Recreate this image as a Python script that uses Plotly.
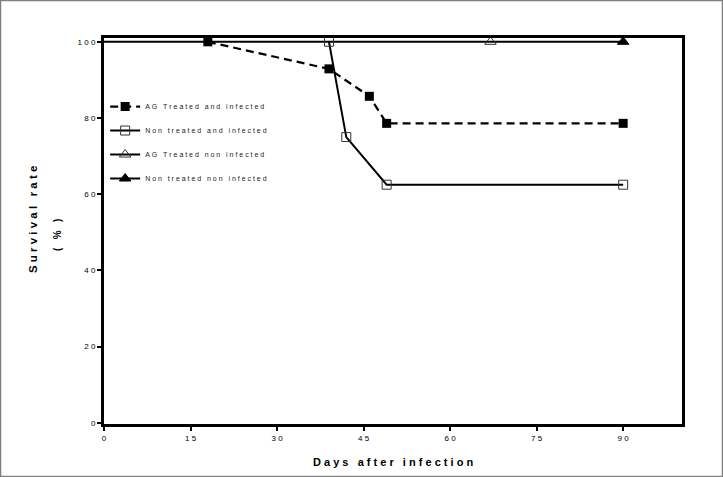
import plotly.graph_objects as go

# ---- data ----
ag_inf_days = [18, 39, 46, 49, 90]
ag_inf_surv = [100, 92.9, 85.7, 78.6, 78.6]

non_inf_days = [39, 42, 49, 90]
non_inf_surv = [100, 75, 62.5, 62.5]

ag_non_days = [67]
ag_non_surv = [100]

non_non_days = [90]
non_non_surv = [100]

# uninfected groups stay at 100 % for the whole follow-up
baseline_days = [0, 90]
baseline_surv = [100, 100]

x_ticks = [0, 15, 30, 45, 60, 75, 90]
y_ticks = [0, 20, 40, 60, 80, 100]

names = ["AG Treated and infected", "Non treated and infected",
         "AG Treated non infected", "Non treated non infected"]

NB = "\u00a0"


def spaced(s):
    return NB.join(NB if c == " " else c for c in s)


FONT = "Liberation Sans, Arial, sans-serif"

fig = go.Figure()

fig.add_trace(go.Scatter(
    x=baseline_days, y=baseline_surv, mode="lines", showlegend=False,
    line=dict(color="black", width=2), hoverinfo="skip"))

fig.add_trace(go.Scatter(
    x=non_inf_days, y=non_inf_surv, mode="lines+markers", name=spaced(names[1]),
    line=dict(color="black", width=2),
    marker=dict(symbol="square-open", size=9, color="#333333",
                line=dict(color="#333333", width=1)),
    legendrank=2, legendgroup="b"))

fig.add_trace(go.Scatter(
    x=ag_inf_days, y=ag_inf_surv, mode="lines+markers", name=spaced(names[0]),
    line=dict(color="black", width=2.2, dash="8px,5px"),
    marker=dict(symbol="square", size=9, color="black"),
    legendrank=1, legendgroup="a"))

fig.add_trace(go.Scatter(
    x=ag_non_days, y=ag_non_surv, mode="lines+markers", name=spaced(names[2]),
    line=dict(color="black", width=2),
    marker=dict(symbol="triangle-up-open", size=10, color="#333333",
                line=dict(color="#333333", width=1)),
    legendrank=3, legendgroup="c"))

fig.add_trace(go.Scatter(
    x=non_non_days, y=non_non_surv, mode="lines+markers", name=spaced(names[3]),
    line=dict(color="black", width=2),
    marker=dict(symbol="triangle-up", size=10, color="black",
                line=dict(color="black", width=1)),
    legendrank=4, legendgroup="d"))

L, R, T, B = 104, 41, 38, 53
W, H = 723, 477
pw, ph = W - L - R, H - T - B

axis_common = dict(
    showline=True, linecolor="black", linewidth=3, mirror=True,
    ticks="outside", ticklen=4, tickwidth=2, tickcolor="black",
    showgrid=False, zeroline=False,
    tickfont=dict(family=FONT, size=8, color="black"),
)

fig.update_layout(
    width=W, height=H,
    margin=dict(l=L, r=R, t=T, b=B, pad=0),
    paper_bgcolor="white", plot_bgcolor="white",
    font=dict(family=FONT, color="black"),
    xaxis=dict(range=[0, 100.2], tickvals=x_ticks,
               ticktext=[spaced(str(v)) for v in x_ticks], **axis_common),
    yaxis=dict(range=[-0.3, 101], tickvals=y_ticks,
               ticktext=[spaced(str(v)) for v in y_ticks], **axis_common),
    legend=dict(x=0.002, y=0.86, xanchor="left", yanchor="top",
                bgcolor="rgba(0,0,0,0)", font=dict(family=FONT, size=7, color="#222"),
                tracegroupgap=5, traceorder="grouped"),
    showlegend=True,
)

fig.add_annotation(text="<b>" + spaced("Days after infection") + "</b>",
                   xref="paper", yref="paper", x=0.5, y=-(462 - 424) / ph,
                   xanchor="center", yanchor="middle", showarrow=False,
                   font=dict(family=FONT, size=11, color="black"))
fig.add_annotation(text="<b>" + spaced("Survival rate") + "</b>",
                   xref="paper", yref="paper", x=(33 - L) / pw, y=(424 - 220) / ph,
                   xanchor="center", yanchor="middle", showarrow=False, textangle=-90,
                   font=dict(family=FONT, size=11.5, color="black"))
fig.add_annotation(text="<b>" + spaced("( % )") + "</b>",
                   xref="paper", yref="paper", x=(57 - L) / pw, y=(424 - 235) / ph,
                   xanchor="center", yanchor="middle", showarrow=False, textangle=-90,
                   font=dict(family=FONT, size=10, color="black"))

# outer gray border of the figure
fig.add_shape(type="rect", xref="paper", yref="paper",
              x0=(0.5 - L) / pw, x1=(W - 0.5 - L) / pw,
              y0=-(B - 0.5) / ph, y1=1 + (T - 0.5) / ph,
              line=dict(color="#808080", width=1.5), layer="below")

fig.write_html("out.html", config={"displayModeBar": False},
               post_script="document.body.style.margin='0';")
